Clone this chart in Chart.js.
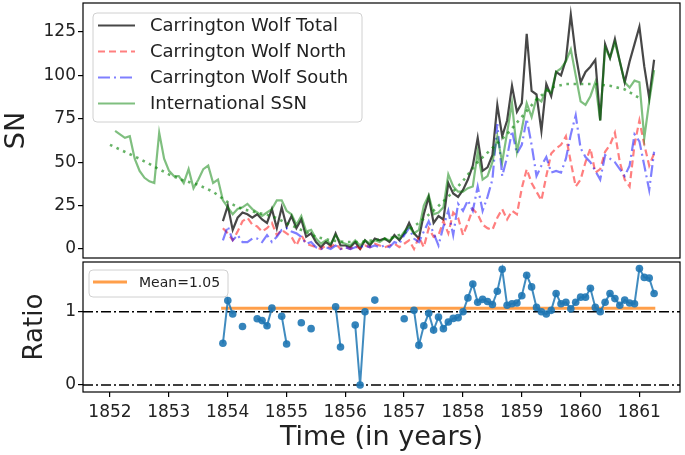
<!DOCTYPE html>
<html>
<head>
<meta charset="utf-8">
<script src="https://cdn.jsdelivr.net/npm/chart.js@4.4.0/dist/chart.umd.min.js"></script>
<style>
  body { margin: 0; background: #fff; }
  #wrap { position: relative; width: 685px; height: 455px; }
  canvas { position: absolute; left: 0; }
</style>
</head>
<body>
<div id="wrap">
  <canvas id="snChart" width="685" height="260" style="top:0"></canvas>
  <canvas id="ratioChart" width="685" height="195" style="top:260px"></canvas>
</div>
<script>
// monthly series, first month of the international SSN
const ssnStart = 1852.087;
// Carrington series start this many months later
const carOffset = 22;

const ssn = [68, 66, 64, 65, 52, 45, 41, 39, 38, 67, 52, 45, 42, 42, 38, 46, 35, 40, 46, 48, 38, 40,
  28, 24, 20, 23, 24, 26, 23, 21, 19, 21, 23, 28, 28, 22, 20, 14, 19, 10, 11, 6,
  3, 5, 3, 8, 4, 3, 2, 5, 2, 5, 3, 5, 4, 6, 5, 7, 6, 10,
  13, 9, 11, 25, 31, 20, 21, 24, 43, 36, 33, 33, 35, 36, 56, 40, 42, 50, 65, 50,
  67, 84, 56, 69, 84, 76,
  87, 85, 92, 90, 102, 104, 108, 115, 100, 85, 83, 88, 96, 74, 116, 110, 119, 108, 96, 93,
  97, 96, 64, 85, 103];

const wolfTotal = [16, 25, 11, 18, 21, 20, 18, 20, 17, 15, 23, 12, 24, 13, 19, 12, 17, 7, 9, 4,
  1, 4, 2, 9, 2, 2, 1, 4, 0, 5, 2, 6, 5, 6, 4, 8, 5, 9,
  15, 9, 6, 20, 30, 15, 19, 17, 38, 32, 30, 34, 40, 48, 64, 45, 47, 54, 83, 65,
  74, 94, 79, 84, 124, 91, 89, 68, 95, 88, 102, 100, 109, 135, 112, 96, 102, 105, 109, 74,
  118, 110, 121, 108, 96, 108, 118, 128, 105, 87, 109];

const wolfNorth = [12, 9, 5, 10, 16, 18, 14, 13, 10, 12, 15, 8, 11, 9, 7, 2, 8, 3, 2, 1,
  0, 2, 1, 3, 0, 1, 0, 2, 0, 2, 1, 3, 2, 1, 2, 3, 1, 3,
  5, 0, 7, 1, 12, 7, 8, 16, 9, 21, 18, 8, 15, 23, 20, 14, 12, 11, 18, 23,
  17, 22, 20, 35, 46, 38, 33, 28, 42, 55, 58, 60, 65, 50, 36, 40, 50, 58, 44, 46,
  56, 60, 67, 50, 40, 36, 60, 74, 60, 48, 55];

const wolfSouth = [5, 13, 5, 8, 4, 4, 6, 6, 4, 8, 4, 7, 11, 12, 10, 9, 7, 3, 4, 1,
  0, 1, 0, 2, 0, 1, 0, 1, 1, 2, 1, 2, 1, 2, 1, 4, 3, 8,
  12, 6, 4, 10, 16, 9, 2, 13, 22, 8, 26, 22, 28, 22, 36, 22, 30, 40, 72, 42,
  53, 68, 55, 60, 75, 60, 42, 48, 53, 44, 45, 44, 52, 66, 77, 58, 53, 50, 45, 40,
  54, 52, 50, 46, 42, 48, 66, 62, 48, 34, 56];

const ratio = [0.57, 1.155, 0.97, null, 0.80, null, null, 0.905, 0.88, 0.81,
  1.05, null, 0.94, 0.56, null, null, 0.85, null, 0.77, null,
  null, null, null, 1.07, 0.52, null, null, 0.82, 0.0, 1.0,
  null, 1.16, null, null, null, null, null, 0.905, null, 1.02,
  0.545, 0.81, 0.98, 0.75, 0.93, 0.77, 0.86, 0.91, 0.92, 1.0,
  1.19, 1.38, 1.13, 1.17, 1.14, 1.10, 1.28, 1.58, 1.09, 1.11,
  1.12, 1.22, 1.50, 1.34, 1.06, 1.0, 0.97, 1.02, 1.25, 1.11,
  1.13, 1.04, 1.13, 1.2, 1.2, 1.32, 1.06, 1.0, 1.13, 1.25,
  1.18, 1.09, 1.16, 1.12, 1.11, 1.59, 1.47, 1.46, 1.25];

// smoothed international SSN (dotted line)
const smoothYears = [1852.0, 1852.25, 1852.5, 1852.75, 1853.0, 1853.25, 1853.5, 1853.75,
  1854.0, 1854.25, 1854.5, 1854.75, 1855.0, 1855.25, 1855.5, 1855.75, 1856.0, 1856.25,
  1856.5, 1856.75, 1857.0, 1857.25, 1857.5, 1857.75, 1858.0, 1858.25, 1858.5, 1858.75,
  1859.0, 1859.25, 1859.5, 1859.75, 1860.0, 1860.25, 1860.5, 1860.75, 1861.0];
const smoothSSN = [60, 56, 52, 47.5, 43, 39.5, 37, 33, 27, 23, 21, 19, 15, 11, 7, 5, 4, 4,
  5, 6, 9, 15, 22, 30, 39, 50, 58, 66, 76, 86, 93, 95, 95, 95, 94, 92, 87];

const meanRatio = 1.05;
const yearTicks = [1852, 1853, 1854, 1855, 1856, 1857, 1858, 1859, 1860, 1861];
const snTicks = [0, 25, 50, 75, 100, 125];
const ratioTicks = [0, 1];

const xMin = 1851.541, xMax = 1861.694;

const ssnPts = ssn.map((v, i) => ({ x: ssnStart + i / 12, y: v }));
const carX = j => ssnStart + (carOffset + j) / 12;
const totalPts = wolfTotal.map((v, j) => ({ x: carX(j), y: v }));
const northPts = wolfNorth.map((v, j) => ({ x: carX(j), y: v }));
const southPts = wolfSouth.map((v, j) => ({ x: carX(j), y: v }));
const ratioPts = ratio.map((v, j) => ({ x: carX(j), y: v }));
const smoothPts = smoothYears.map((t, i) => ({ x: t, y: smoothSSN[i] }));

const textColor = '#222';
const fontFamily = '"DejaVu Sans", sans-serif';

// keep the plot area where it is: no extra room for edge labels
function noEdgePadding(s) {
  s.paddingTop = 0; s.paddingBottom = 0; s.paddingLeft = 0; s.paddingRight = 0;
}

// frame, axis titles and a matplotlib-like legend box
const decorPlugin = {
  id: 'decor',
  afterDraw(chart, args, opts) {
    const { ctx, chartArea: a } = chart;
    ctx.save();
    ctx.strokeStyle = '#000';
    ctx.lineWidth = 1.2;
    ctx.strokeRect(a.left, a.top, a.right - a.left, a.bottom - a.top);

    ctx.fillStyle = textColor;
    (opts.titles || []).forEach(t => {
      ctx.save();
      ctx.font = t.size + 'px ' + fontFamily;
      ctx.textAlign = 'center';
      ctx.textBaseline = 'middle';
      ctx.translate(t.x, t.y);
      if (t.rotate) ctx.rotate(-Math.PI / 2);
      ctx.fillText(t.text, 0, 0);
      ctx.restore();
    });

    const lg = opts.legend;
    if (lg) {
      const r = 4;
      ctx.beginPath();
      ctx.moveTo(lg.x + r, lg.y);
      ctx.arcTo(lg.x + lg.w, lg.y, lg.x + lg.w, lg.y + lg.h, r);
      ctx.arcTo(lg.x + lg.w, lg.y + lg.h, lg.x, lg.y + lg.h, r);
      ctx.arcTo(lg.x, lg.y + lg.h, lg.x, lg.y, r);
      ctx.arcTo(lg.x, lg.y, lg.x + lg.w, lg.y, r);
      ctx.closePath();
      ctx.fillStyle = 'rgba(255,255,255,0.8)';
      ctx.fill();
      ctx.strokeStyle = '#d0d0d0';
      ctx.lineWidth = 1;
      ctx.stroke();
      lg.items.forEach((it, k) => {
        const y = lg.rowY + k * lg.rowH;
        ctx.beginPath();
        ctx.setLineDash(it.dash || []);
        ctx.strokeStyle = it.color;
        ctx.lineWidth = it.width;
        ctx.moveTo(lg.lineX0, y);
        ctx.lineTo(lg.lineX1, y);
        ctx.stroke();
        ctx.setLineDash([]);
        ctx.fillStyle = textColor;
        ctx.font = lg.size + 'px ' + fontFamily;
        ctx.textAlign = 'left';
        ctx.textBaseline = 'middle';
        ctx.fillText(it.label, lg.textX, y + 1);
      });
    }
    ctx.restore();
  }
};

const colTotal = 'rgba(0,0,0,0.72)';
const colNorth = 'rgba(255,0,0,0.5)';
const colSouth = 'rgba(0,0,255,0.5)';
const colSSN = 'rgba(0,128,0,0.5)';

new Chart(document.getElementById('snChart'), {
  type: 'line',
  data: {
    datasets: [
      { label: 'Carrington Wolf Total', data: totalPts, borderColor: colTotal, borderWidth: 2.2, order: 5 },
      { label: 'Carrington Wolf North', data: northPts, borderColor: colNorth, borderWidth: 2.2, borderDash: [7, 4], order: 4 },
      { label: 'Carrington Wolf South', data: southPts, borderColor: colSouth, borderWidth: 2.2, borderDash: [12, 4, 2, 4], order: 3 },
      { label: 'International SSN', data: ssnPts, borderColor: colSSN, borderWidth: 2.2, order: 2 },
      { label: 'smoothed', data: smoothPts, borderColor: 'rgba(0,128,0,0.6)', borderWidth: 2.6, borderDash: [2.6, 4.6], order: 1 }
    ]
  },
  options: {
    responsive: false,
    animation: false,
    events: [],
    layout: { autoPadding: false, padding: { top: 3, right: 5, bottom: 2, left: 0 } },
    elements: { point: { radius: 0 }, line: { tension: 0, fill: false } },
    plugins: {
      legend: { display: false },
      tooltip: { enabled: false },
      decor: {
        titles: [{ text: 'SN', x: 17, y: 130.5, size: 27, rotate: true }],
        legend: {
          x: 93, y: 13, w: 269, h: 109, rowY: 25.5, rowH: 26, size: 18,
          lineX0: 98, lineX1: 135, textX: 150,
          items: [
            { label: 'Carrington Wolf Total', color: colTotal, width: 2.2 },
            { label: 'Carrington Wolf North', color: colNorth, width: 2.2, dash: [7, 4] },
            { label: 'Carrington Wolf South', color: colSouth, width: 2.2, dash: [12, 4, 2, 4] },
            { label: 'International SSN', color: colSSN, width: 2.2 }
          ]
        }
      }
    },
    scales: {
      x: { type: 'linear', min: xMin, max: xMax, display: false },
      y: {
        min: -5.2, max: 141.7,
        afterBuildTicks: s => { s.ticks = snTicks.map(v => ({ value: v })); },
        afterFit: s => { s.width = 83; noEdgePadding(s); },
        border: { display: false },
        grid: { drawOnChartArea: false, tickLength: 5, color: '#000', lineWidth: 1.2 },
        ticks: { padding: 2, color: textColor, font: { family: fontFamily, size: 17 } }
      }
    }
  },
  plugins: [decorPlugin]
});

new Chart(document.getElementById('ratioChart'), {
  type: 'line',
  data: {
    datasets: [
      { label: 'Ratio', data: ratioPts, borderColor: 'rgba(31,119,180,0.85)', borderWidth: 2,
        pointRadius: 3.8, pointBackgroundColor: 'rgba(31,119,180,0.9)', pointBorderWidth: 0,
        spanGaps: false, order: 1 },
      { label: 'Mean=1.05', data: [{ x: carX(0) - 0.03, y: meanRatio }, { x: carX(wolfTotal.length - 1) + 0.02, y: meanRatio }],
        borderColor: 'rgba(255,127,14,0.75)', borderWidth: 3, pointRadius: 0, order: 2 },
      { label: 'one', data: [{ x: xMin, y: 1 }, { x: xMax, y: 1 }], borderColor: '#000', borderWidth: 1.5,
        borderDash: [10, 3, 2, 3], pointRadius: 0, order: 3 },
      { label: 'zero', data: [{ x: xMin, y: 0 }, { x: xMax, y: 0 }], borderColor: '#000', borderWidth: 1.5,
        borderDash: [10, 3, 2, 3], pointRadius: 0, order: 3 }
    ]
  },
  options: {
    responsive: false,
    animation: false,
    events: [],
    layout: { autoPadding: false, padding: { top: 2, right: 5, bottom: 0, left: 0 } },
    elements: { line: { tension: 0, fill: false } },
    plugins: {
      legend: { display: false },
      tooltip: { enabled: false },
      decor: {
        titles: [
          { text: 'Ratio', x: 35, y: 67, size: 26, rotate: true },
          { text: 'Time (in years)', x: 381.5, y: 178, size: 27 }
        ],
        legend: {
          x: 89, y: 10, w: 139, h: 27, rowY: 22, rowH: 20, size: 14,
          lineX0: 93, lineX1: 127, textX: 139,
          items: [{ label: 'Mean=1.05', color: 'rgba(255,127,14,0.75)', width: 3 }]
        }
      }
    },
    scales: {
      x: {
        type: 'linear', min: xMin, max: xMax,
        afterBuildTicks: s => { s.ticks = yearTicks.map(v => ({ value: v })); },
        afterFit: s => { s.height = 63; noEdgePadding(s); },
        border: { display: false },
        grid: { drawOnChartArea: false, tickLength: 5, color: '#000', lineWidth: 1.2 },
        ticks: { padding: 5, maxRotation: 0, color: textColor, font: { family: fontFamily, size: 17 },
          callback: v => String(v) }
      },
      y: {
        min: -0.095, max: 1.68,
        afterBuildTicks: s => { s.ticks = ratioTicks.map(v => ({ value: v })); },
        afterFit: s => { s.width = 83; noEdgePadding(s); },
        border: { display: false },
        grid: { drawOnChartArea: false, tickLength: 5, color: '#000', lineWidth: 1.2 },
        ticks: { padding: 2, color: textColor, font: { family: fontFamily, size: 17 } }
      }
    }
  },
  plugins: [decorPlugin]
});
</script>
</body>
</html>
